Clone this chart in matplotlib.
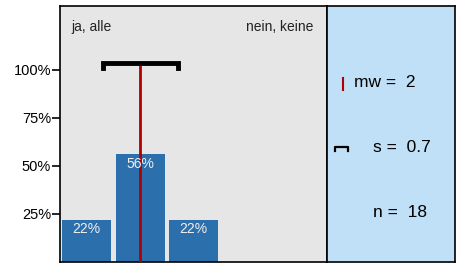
import matplotlib
matplotlib.use("Agg")
from matplotlib import pyplot as plt
import numpy as np

plt.rcParams['font.family'] = ['Liberation Sans', 'DejaVu Sans']

# data
categories = [1, 2, 3, 4, 5]
percents = [22, 56, 22, 0, 0]
mean_val = 2
sd_val = 0.7
n_val = 18
yticks = [25, 50, 75, 100]
left_label = "ja, alle"
right_label = "nein, keine"

bar_col = "#2b6fad"
red = "#b00000"

fig = plt.figure(figsize=(4.62, 2.64), dpi=100)
ax = fig.add_axes([0.130, 0.008, 0.578, 0.969])
ax.set_facecolor("#e6e6e6")

ax.bar(categories, percents, width=0.92, color=bar_col, zorder=2)
for c, p in zip(categories, percents):
    if p > 0:
        ax.text(c, p - 1.5, "%d%%" % p, color="#f0f0f0", ha="center", va="top",
                fontsize=10, zorder=4)

# mean line and sd bracket
ax.plot([mean_val, mean_val], [0, 103], color=red, lw=2, zorder=3)
lo, hi = mean_val - sd_val, mean_val + sd_val
ax.plot([lo, lo, hi, hi], [101, 103.6, 103.6, 101], color="black", lw=3.5,
        solid_joinstyle="miter", zorder=4)

ax.text(0.71, 122, left_label, fontsize=10, ha="left", va="center", color="#222222")
ax.text(5.24, 122, right_label, fontsize=10, ha="right", va="center", color="#222222")

ax.set_xlim(0.5, 5.5)
ax.set_ylim(0, 133)
ax.set_yticks(yticks)
ax.set_yticklabels(["%d%%" % t for t in yticks], fontsize=10.5)
ax.set_xticks([])
ax.tick_params(axis="y", length=6, width=1.2, pad=0.5)
for s in ax.spines.values():
    s.set_linewidth(1.2)

# stats panel
ax2 = fig.add_axes([0.708, 0.008, 0.277, 0.969])
ax2.set_facecolor("#bfe0f7")
ax2.set_xlim(0, 1)
ax2.set_ylim(0, 1)
ax2.set_xticks([])
ax2.set_yticks([])
for s in ax2.spines.values():
    s.set_linewidth(1.2)

ax2.plot([0.125, 0.125], [0.67, 0.72], color=red, lw=1.5)
ax2.plot([0.06, 0.06, 0.165, 0.165], [0.434, 0.449, 0.449, 0.434], color="black", lw=1.6)
ax2.text(0.21, 0.703, "mw =  %d" % mean_val, fontsize=12.5, ha="left", va="center")
ax2.text(0.36, 0.449, "s =  %.1f" % sd_val, fontsize=12.5, ha="left", va="center")
ax2.text(0.355, 0.195, "n =  %d" % n_val, fontsize=12.5, ha="left", va="center")

fig.savefig("out.png", dpi=100)
